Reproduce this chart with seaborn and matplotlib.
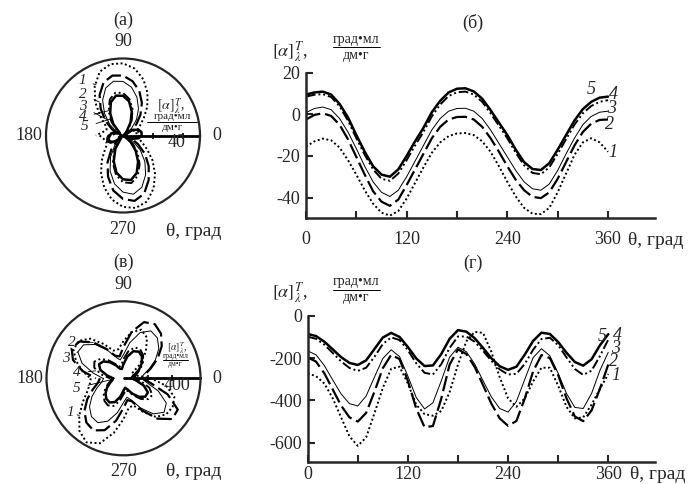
import numpy as np
import matplotlib
matplotlib.use("Agg")
import matplotlib.pyplot as plt
import seaborn as sns
from matplotlib.lines import Line2D

# углы, град
theta = np.arange(0, 361, 10)

# панель (б): [α], град·мл/(дм·г)
b1 = [-15.5, -13, -11.7, -12.5, -16, -22, -29, -36.5, -43, -47.3, -48.7, -46.5, -40.5,
      -33, -25.5, -18.5, -13.5, -10.5, -9.2, -9, -10, -13, -18, -25, -32.5, -39.5, -45,
      -47.8, -48, -45, -37.5, -28.5, -19.5, -13.5, -11.5, -13.5, -18]
b2 = [-2.5, -0.3, 0.5, -0.8, -5, -12, -20.5, -29, -37, -42, -44, -41, -34, -26.5, -19,
      -11.5, -6, -2.5, -1.3, -1.2, -2.5, -6, -11.5, -18, -25, -31.5, -36.5, -39.7, -40.3,
      -37.5, -31, -23, -15, -8.5, -4.5, -2.7, -2.5]
b3 = [0.8, 2.8, 3.5, 2.2, -2, -8.5, -16.5, -25, -32.5, -37.5, -39.5, -36.5, -30, -22.5,
      -15, -7.5, -2, 1.5, 2.8, 2.9, 1.5, -2, -7.5, -14, -20.5, -27, -32.5, -35.8, -36.5,
      -33.5, -27, -19, -11.5, -5, -1, 1, 1.5]
b4 = [8.5, 9.4, 9.7, 8.3, 3.8, -3, -11.5, -19.5, -26.5, -31, -32, -28.5, -22, -15, -8.5,
      -1, 4.7, 8.8, 10.6, 10.9, 9.5, 6, 0.5, -5.5, -11.5, -18.5, -24.5, -28.2, -28.8,
      -25.5, -19, -12, -5, 0.5, 4, 6, 6.8]
b5 = [9.5, 10.5, 10.9, 9.5, 5, -1.5, -10, -18, -25, -29, -30, -26.5, -20, -13, -6.5, 1,
      6.5, 10.5, 12.3, 12.5, 11, 7.5, 2, -4, -10, -17, -23, -26.3, -26.8, -23.5, -17,
      -10, -3, 2.5, 6, 8, 8.5]

# панель (г)
g1 = [-272, -285, -320, -390, -480, -570, -615, -575, -460, -340, -250, -240, -320,
      -420, -465, -472, -450, -360, -230, -120, -75, -80, -170, -290, -390, -430, -390,
      -310, -245, -245, -330, -430, -485, -480, -420, -345, -275]
g2 = [-196, -216, -272, -348, -424, -480, -500, -459, -358, -247, -184, -204, -307,
      -438, -527, -521, -391, -230, -158, -180, -241, -327, -415, -485, -520, -497, -391,
      -262, -185, -199, -280, -390, -476, -498, -447, -345, -230]
g3 = [-165, -184, -235, -303, -369, -415, -426, -379, -289, -201, -160, -192, -285,
      -386, -440, -411, -307, -195, -148, -169, -227, -306, -383, -438, -455, -405, -300,
      -197, -155, -188, -271, -367, -433, -438, -367, -258, -172]
g4 = [-98, -108, -136, -175, -215, -246, -260, -245, -193, -133, -101, -114, -162, -224,
      -269, -277, -228, -151, -97, -97, -122, -165, -212, -253, -277, -274, -227, -160,
      -109, -103, -138, -196, -251, -279, -259, -190, -112]
g5 = [-85, -95, -122, -158, -195, -222, -232, -210, -156, -102, -80, -99, -147, -201,
      -237, -234, -180, -108, -67, -74, -105, -151, -200, -238, -255, -240, -183, -118,
      -79, -85, -123, -174, -218, -235, -205, -139, -86]

curve_names = ["1", "2", "3", "4", "5"]
curves_b = dict(zip(curve_names, [b1, b2, b3, b4, b5]))
curves_g = dict(zip(curve_names, [g1, g2, g3, g4, g5]))

styles = {
    "1": dict(ls=(0, (1, 1.3)), lw=1.4),
    "2": dict(ls=(0, (7, 2.2)), lw=1.6),
    "3": dict(ls="-", lw=0.7),
    "4": dict(ls=(0, (5, 1.5, 1, 1.5, 1, 1.5)), lw=1.4),
    "5": dict(ls="-", lw=1.8),
}

sns.set_style("ticks")
plt.rcParams["font.family"] = ["Liberation Serif", "DejaVu Serif"]
plt.rcParams["mathtext.fontset"] = "stix"

W, H = 689, 484
fig = plt.figure(figsize=(W / 100, H / 100), dpi=100)


def fx(x, y):
    # пиксели картинки -> доли фигуры
    return x / W, 1 - y / H


def units_label(x, y, size_a, size_f, x0, x1, yn, yb, yd):
    fig.text(*fx(x, y), r"$[\alpha]^{T}_{\lambda}$,", fontsize=size_a, va="center")
    xm = (x0 + x1) / 2
    fig.text(*fx(xm, yn), "град\u2022мл", fontsize=size_f, ha="center", va="center")
    fig.text(*fx(xm, yd), "дм\u2022г", fontsize=size_f, ha="center", va="center")
    fig.add_artist(Line2D([x0 / W, x1 / W], [1 - yb / H, 1 - yb / H],
                          transform=fig.transFigure, color="k", lw=0.7))


def cart_panel(rect, curves, ylim, yticks, lab_pos, xlab_x, xpad, xlab_y):
    ax = fig.add_axes(rect)
    for name, vals in curves.items():
        sns.lineplot(x=theta, y=vals, ax=ax, color="k", **styles[name])
    ax.set_xlim(0, 416)
    ax.set_ylim(*ylim)
    ax.set_xticks(np.arange(0, 361, 60))
    ax.set_xticklabels(["0", "", "120", "", "240", "", "360"])
    ax.set_yticks(yticks)
    ax.set_yticklabels([str(t) for t in yticks])
    sns.despine(ax=ax)
    for s in ["left", "bottom"]:
        ax.spines[s].set_linewidth(1.8)
    ax.tick_params(direction="in", length=5, width=1.5, labelsize=13)
    ax.tick_params(axis="x", pad=xpad)
    ax.tick_params(axis="y", pad=4)
    ax.set_xlabel("")
    ax.set_ylabel("")
    ax.text(xlab_x, xlab_y, "θ, град", transform=ax.transAxes, fontsize=14,
            va="center", ha="left")
    for name, (x, y) in lab_pos.items():
        ax.text(x, y, name, fontsize=13, style="italic", ha="center", va="center")
    return ax


def polar_panel(rect, curves, rmax, rticks, rlab, rlab_pos, leaders):
    ax = fig.add_axes(rect, projection="polar")
    for name, vals in curves.items():
        sns.lineplot(x=np.deg2rad(theta + 180), y=np.abs(vals), ax=ax, color="k",
                     sort=False, **styles[name])
    ax.set_ylim(0, rmax)
    ax.grid(False)
    ax.set_xticks(np.deg2rad([0, 90, 180, 270]))
    ax.set_xticklabels(["0", "90", "180", "270"])
    ax.set_yticks(rticks)
    ax.set_yticklabels([])
    ax.plot(np.zeros(len(rticks)), rticks, ls="none", marker="|", ms=5, mew=1.2,
            color="k")
    ax.text(np.deg2rad(rlab_pos[0]), rlab_pos[1], rlab, fontsize=13,
            ha="center", va="center")
    ax.axvline(0, color="k", lw=2)
    ax.spines["polar"].set_linewidth(1.6)
    ax.tick_params(axis="x", direction="inout", length=8, width=1.5, labelsize=13, pad=1)
    ax.set_xlabel("")
    ax.set_ylabel("")
    for name, (phi, r, xt, yt) in leaders.items():
        ax.annotate(name, xy=(np.deg2rad(phi), r), xytext=(xt, H - yt),
                    textcoords="figure pixels", fontsize=11, style="italic",
                    ha="center", va="center",
                    arrowprops=dict(arrowstyle="-", lw=0.6, color="k", shrinkA=3, shrinkB=0))
    return ax


# (а)
polar_panel([46 / W, 1 - 212.5 / H, 154 / W, 154 / H], curves_b, 51, [20, 40], "40",
            (-7.5, 35.5),
            {"1": (118, 38, 82, 80), "2": (125, 27, 83, 95), "3": (135, 15, 83, 107),
             "4": (120, 19, 83, 117), "5": (125, 13.5, 85, 127)})
# (в)
polar_panel([46.5 / W, 1 - 455.3 / H, 154 / W, 154 / H], curves_g, 640, [200, 400], "400",
            (-7.5, 447),
            {"2": (130, 390, 72, 342), "3": (150, 438, 66, 358), "4": (165, 240, 77, 373),
             "5": (185, 90, 77, 388), "1": (220, 480, 70, 413)})

# (б)
cart_panel([306 / W, 1 - 218.3 / H, 349 / W, 145.6 / H], curves_b, (-50, 20),
           [20, 0, -20, -40],
           {"5": (340, 11.7), "4": (366, 9.3), "3": (364, 3), "2": (362, -5.1),
            "1": (366, -18.6)}, 0.923, 9, -0.15)
# (г)
cart_panel([307.7 / W, 1 - 461.7 / H, 347.3 / W, 145.7 / H], curves_g, (-690, 0),
           [0, -200, -400, -600],
           {"5": (353, -95), "4": (371, -90), "3": (369, -152), "2": (366, -217),
            "1": (369, -280)}, 0.928, 3, -0.09)

# подписи панелей
for t, (x, y) in {"(а)": (123, 20), "(б)": (473, 23), "(в)": (123, 262), "(г)": (473, 263)}.items():
    fig.text(*fx(x, y), t, fontsize=13, ha="center", va="center")

# подписи осей полярных графиков
for y in (232, 472):
    fig.text(*fx(194, y), "θ, град", fontsize=14, ha="center", va="center")

# размерности
units_label(272, 52, 13, 10, 333, 380, 40, 46.7, 55.5)
units_label(272, 293, 13, 10, 333, 380, 282, 289.5, 298)
units_label(157, 107, 10, 8, 147, 197, 116.5, 121.7, 127)
units_label(167, 348, 7, 5.5, 163, 188, 356.5, 359.5, 363.5)

fig.savefig("out.png", dpi=100)
